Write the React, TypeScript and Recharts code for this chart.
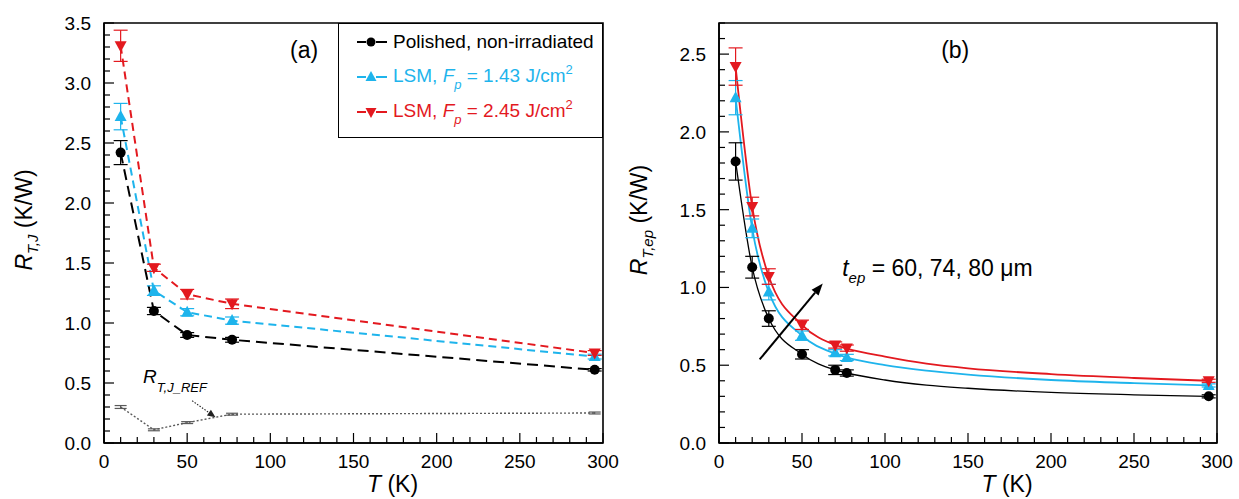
import React from "react";
import {
  LineChart,
  Line,
  XAxis,
  YAxis,
  ErrorBar,
  ReferenceArea,
  ReferenceLine,
  ReferenceDot,
  Legend,
} from "recharts";

const FONT = "'Liberation Sans', Arial, Helvetica, sans-serif";
const RED = "#e3191f";
const CYAN = "#1eb4ec";
const BLACK = "#000000";
const GREY = "#5a5a5a";

// panel (a): R_T,J vs T
const tempA = [10, 30, 50, 77, 295];
const polishedA = [2.42, 1.1, 0.9, 0.86, 0.61];
const polishedAErr = [0.1, 0.03, 0.02, 0.02, 0.01];
const lsm143A = [2.72, 1.27, 1.09, 1.02, 0.72];
const lsm143AErr = [0.11, 0.04, 0.03, 0.03, 0.02];
const lsm245A = [3.31, 1.46, 1.24, 1.16, 0.75];
const lsm245AErr = [0.13, 0.03, 0.04, 0.04, 0.02];
const refA = [0.3, 0.11, 0.17, 0.24, 0.25];
const refAErr = [0.012, 0.008, 0.008, 0.008, 0.008];

// panel (b): R_T,ep vs T, measured points
const tempB = [10, 20, 30, 50, 70, 77, 295];
const polishedB = [1.81, 1.13, 0.8, 0.57, 0.47, 0.45, 0.3];
const polishedBErr = [0.12, 0.07, 0.05, 0.03, 0.03, 0.02, 0.01];
const lsm143B = [2.22, 1.38, 0.97, 0.69, 0.58, 0.55, 0.37];
const lsm143BErr = [0.11, 0.06, 0.05, 0.03, 0.02, 0.02, 0.01];
const lsm245B = [2.42, 1.52, 1.07, 0.76, 0.63, 0.61, 0.4];
const lsm245BErr = [0.12, 0.06, 0.05, 0.03, 0.02, 0.02, 0.01];

// panel (b): fitted curves
const fitTempB = [10, 20, 30, 50, 70, 77, 100, 125, 150, 200, 250, 295];
const polishedFit = [1.81, 1.13, 0.8, 0.57, 0.47, 0.45, 0.405, 0.372, 0.352, 0.325, 0.31, 0.3];
const lsm143Fit = [2.22, 1.38, 0.97, 0.69, 0.575, 0.55, 0.5, 0.465, 0.44, 0.405, 0.385, 0.37];
const lsm245Fit = [2.42, 1.52, 1.07, 0.76, 0.63, 0.607, 0.555, 0.51, 0.48, 0.443, 0.418, 0.4];

// axis ticks
const xMajor = [0, 50, 100, 150, 200, 250, 300];
const yMajorA = [0, 0.5, 1, 1.5, 2, 2.5, 3, 3.5];
const yMajorB = [0, 0.5, 1, 1.5, 2, 2.5];
const xTicks = Array.from({ length: 31 }, (_, i) => i * 10);
const yTicksA = Array.from({ length: 36 }, (_, i) => i / 10);
const yTicksB = Array.from({ length: 28 }, (_, i) => i / 10);

const rowsA = tempA.map((T, i) => ({
  T,
  polished: polishedA[i],
  polishedErr: polishedAErr[i],
  lsm143: lsm143A[i],
  lsm143Err: lsm143AErr[i],
  lsm245: lsm245A[i],
  lsm245Err: lsm245AErr[i],
  ref: refA[i],
  refErr: refAErr[i],
}));

const rowsB = tempB.map((T, i) => ({
  T,
  polished: polishedB[i],
  polishedErr: polishedBErr[i],
  lsm143: lsm143B[i],
  lsm143Err: lsm143BErr[i],
  lsm245: lsm245B[i],
  lsm245Err: lsm245BErr[i],
}));

const fitB = fitTempB.map((T, i) => ({
  T,
  polished: polishedFit[i],
  lsm143: lsm143Fit[i],
  lsm245: lsm245Fit[i],
}));

const isMajor = (v: number, majors: number[]) => majors.some((m) => Math.abs(m - v) < 1e-6);
const axisLine = { stroke: "#000", strokeWidth: 1.6 };

const xTick = (p: any) => {
  const { x, y, payload } = p;
  const major = isMajor(payload.value, xMajor);
  return (
    <g>
      <line x1={x} x2={x} y1={y} y2={y - (major ? 10 : 6)} stroke="#000" strokeWidth={1.2} />
      {major && (
        <text x={x} y={y + 25} textAnchor="middle" fontSize={19} fontFamily={FONT} fill="#000">
          {payload.value}
        </text>
      )}
    </g>
  );
};

const yTick = (majors: number[]) => (p: any) => {
  const { x, y, payload } = p;
  const major = isMajor(payload.value, majors);
  return (
    <g>
      <line x1={x} x2={x + (major ? 10 : 6)} y1={y} y2={y} stroke="#000" strokeWidth={1.2} />
      {major && (
        <text x={x - 13} y={y + 7} textAnchor="end" fontSize={19} fontFamily={FONT} fill="#000">
          {payload.value.toFixed(1)}
        </text>
      )}
    </g>
  );
};

const xTitle = (p: any) => {
  const vb = p.viewBox;
  return (
    <text x={vb.x + vb.width / 2 + 39} y={vb.y + 49} textAnchor="middle" fontSize={23} fontFamily={FONT} fill="#000">
      <tspan fontStyle="italic">T</tspan>
      <tspan> (K)</tspan>
    </text>
  );
};

const yTitle = (sub: string, bx: number) => (p: any) => {
  const vb = p.viewBox;
  const cy = vb.y + vb.height / 2 - 13;
  return (
    <text transform={`translate(${bx},${cy}) rotate(-90)`} textAnchor="middle" fontSize={23} fontFamily={FONT} fill="#000">
      <tspan fontStyle="italic">R</tspan>
      <tspan fontStyle="italic" fontSize={15} dy={6}>{sub}</tspan>
      <tspan dy={-6}> (K/W)</tspan>
    </text>
  );
};

const circleDot = (color: string, r: number) => (p: any) =>
  p.cx == null ? <g key={p.index} /> : <circle key={p.index} cx={p.cx} cy={p.cy} r={r} fill={color} />;

const triUpDot = (color: string) => (p: any) =>
  p.cx == null ? (
    <g key={p.index} />
  ) : (
    <path key={p.index} d={`M${p.cx},${p.cy - 6.5}L${p.cx + 6},${p.cy + 4.5}L${p.cx - 6},${p.cy + 4.5}Z`} fill={color} />
  );

const triDownDot = (color: string) => (p: any) =>
  p.cx == null ? (
    <g key={p.index} />
  ) : (
    <path key={p.index} d={`M${p.cx},${p.cy + 6.5}L${p.cx + 6},${p.cy - 4.5}L${p.cx - 6},${p.cy - 4.5}Z`} fill={color} />
  );

const arrow = (width: number, dash: string | undefined, color: string, head: number, headW: number) => (p: any) => {
  const { x1, y1, x2, y2 } = p;
  const ang = Math.atan2(y2 - y1, x2 - x1);
  const bx = x2 - head * Math.cos(ang);
  const by = y2 - head * Math.sin(ang);
  const px = (-Math.sin(ang) * headW) / 2;
  const py = (Math.cos(ang) * headW) / 2;
  return (
    <g>
      <line x1={x1} y1={y1} x2={bx} y2={by} stroke={color} strokeWidth={width} strokeDasharray={dash} />
      <path d={`M${x2},${y2}L${bx + px},${by + py}L${bx - px},${by - py}Z`} fill={color} />
    </g>
  );
};

const panelLabel = (txt: string) => (p: any) => (
  <text x={p.cx} y={p.cy} textAnchor="middle" fontSize={23} fontFamily={FONT} fill="#000">
    {txt}
  </text>
);

const refLabel = (p: any) => (
  <text x={p.cx} y={p.cy} fontSize={19} fontFamily={FONT} fill="#000" fontStyle="italic">
    <tspan>R</tspan>
    <tspan fontSize={13} dy={9}>T,J_REF</tspan>
  </text>
);

const tepLabel = (p: any) => (
  <text x={p.cx} y={p.cy} fontSize={23} fontFamily={FONT} fill="#000">
    <tspan fontStyle="italic">t</tspan>
    <tspan fontStyle="italic" fontSize={15} dy={7}>ep</tspan>
    <tspan dy={-7}> = 60, 74, 80 μm</tspan>
  </text>
);

function LegendBox() {
  const row = (color: string, marker: React.ReactNode, content: React.ReactNode) => (
    <div style={{ height: 35, display: "flex", alignItems: "center", color }}>
      <svg width={30} height={16} style={{ marginLeft: 18, marginRight: 6, flex: "none" }}>
        <line x1={0} x2={9} y1={8} y2={8} stroke={color} strokeWidth={2} />
        <line x1={19} x2={30} y1={8} y2={8} stroke={color} strokeWidth={2} />
        {marker}
      </svg>
      <span style={{ whiteSpace: "nowrap" }}>{content}</span>
    </div>
  );
  const sub = { fontSize: 13, fontStyle: "italic" as const, position: "relative" as const, top: 7 };
  const sup = { fontSize: 13, position: "relative" as const, top: -8 };
  return (
    <div
      style={{
        width: 265,
        height: 115,
        boxSizing: "border-box",
        border: "1.5px solid #000",
        background: "#fff",
        fontFamily: FONT,
        fontSize: 19,
        lineHeight: "20px",
      }}
    >
      {row(BLACK, <circle cx={14} cy={8} r={4.5} fill={BLACK} />, "Polished, non-irradiated")}
      {row(
        CYAN,
        <path d="M14,2L19.5,12L8.5,12Z" fill={CYAN} />,
        <>
          LSM, <i>F</i>
          <span style={sub}>p</span> = 1.43 J/cm<span style={sup}>2</span>
        </>
      )}
      {row(
        RED,
        <path d="M14,14L19.5,4L8.5,4Z" fill={RED} />,
        <>
          LSM, <i>F</i>
          <span style={sub}>p</span> = 2.45 J/cm<span style={sup}>2</span>
        </>
      )}
    </div>
  );
}

function PanelA() {
  return (
    <LineChart width={620} height={499} margin={{ top: 23, right: 17, bottom: 0, left: 0 }}>
      <XAxis
        dataKey="T"
        type="number"
        domain={[0, 300]}
        ticks={xTicks}
        interval={0}
        tickSize={0}
        tickMargin={0}
        tick={xTick}
        axisLine={axisLine}
        height={56}
        allowDataOverflow
        label={xTitle}
      />
      <YAxis
        type="number"
        domain={[0, 3.5]}
        ticks={yTicksA}
        interval={0}
        tickSize={0}
        tickMargin={0}
        tick={yTick(yMajorA)}
        axisLine={axisLine}
        width={104}
        allowDataOverflow
        label={yTitle("T,J", 32)}
      />
      <ReferenceArea x1={0} x2={300} y1={0} y2={3.5} fill="none" fillOpacity={0} stroke="#000" strokeWidth={1.6} />
      <Line data={rowsA} dataKey="ref" stroke={GREY} strokeWidth={1.4} strokeDasharray="2 2" dot={false} isAnimationActive={false}>
        <ErrorBar dataKey="refErr" width={6} stroke={GREY} strokeWidth={1.2} direction="y" />
      </Line>
      <Line
        data={rowsA}
        dataKey="polished"
        stroke={BLACK}
        strokeWidth={2}
        strokeDasharray="11 6"
        dot={circleDot(BLACK, 5)}
        isAnimationActive={false}
      >
        <ErrorBar dataKey="polishedErr" width={7} stroke={BLACK} strokeWidth={1.2} direction="y" />
      </Line>
      <Line
        data={rowsA}
        dataKey="lsm143"
        stroke={CYAN}
        strokeWidth={2}
        strokeDasharray="8 5"
        dot={triUpDot(CYAN)}
        isAnimationActive={false}
      >
        <ErrorBar dataKey="lsm143Err" width={7} stroke={CYAN} strokeWidth={1.2} direction="y" />
      </Line>
      <Line
        data={rowsA}
        dataKey="lsm245"
        stroke={RED}
        strokeWidth={2}
        strokeDasharray="8 5"
        dot={triDownDot(RED)}
        isAnimationActive={false}
      >
        <ErrorBar dataKey="lsm245Err" width={7} stroke={RED} strokeWidth={1.2} direction="y" />
      </Line>
      <ReferenceLine
        segment={[
          { x: 53, y: 0.352 },
          { x: 67, y: 0.215 },
        ]}
        ifOverflow="visible"
        shape={arrow(1.1, "1.5 1.5", "#222", 8, 7)}
      />
      <ReferenceDot x={23.5} y={0.5} ifOverflow="visible" shape={refLabel} />
      <ReferenceDot x={120.3} y={3.21} ifOverflow="visible" shape={panelLabel("(a)")} />
      <Legend
        layout="vertical"
        align="center"
        verticalAlign="middle"
        content={() => <LegendBox />}
        wrapperStyle={{ left: 338, top: 23, width: 265, height: 115 }}
      />
    </LineChart>
  );
}

function PanelB() {
  return (
    <LineChart width={619} height={499} margin={{ top: 23, right: 22, bottom: 0, left: 0 }}>
      <XAxis
        dataKey="T"
        type="number"
        domain={[0, 300]}
        ticks={xTicks}
        interval={0}
        tickSize={0}
        tickMargin={0}
        tick={xTick}
        axisLine={axisLine}
        height={56}
        allowDataOverflow
        label={xTitle}
      />
      <YAxis
        type="number"
        domain={[0, 2.7]}
        ticks={yTicksB}
        interval={0}
        tickSize={0}
        tickMargin={0}
        tick={yTick(yMajorB)}
        axisLine={axisLine}
        width={99}
        allowDataOverflow
        label={yTitle("T,ep", 27)}
      />
      <ReferenceArea x1={0} x2={300} y1={0} y2={2.7} fill="none" fillOpacity={0} stroke="#000" strokeWidth={1.6} />
      <Line data={fitB} dataKey="polished" type="monotone" stroke={BLACK} strokeWidth={1.3} dot={false} isAnimationActive={false} />
      <Line data={fitB} dataKey="lsm143" type="monotone" stroke={CYAN} strokeWidth={1.8} dot={false} isAnimationActive={false} />
      <Line data={fitB} dataKey="lsm245" type="monotone" stroke={RED} strokeWidth={1.8} dot={false} isAnimationActive={false} />
      <Line data={rowsB} dataKey="polished" stroke="none" strokeWidth={0} dot={circleDot(BLACK, 5)} isAnimationActive={false}>
        <ErrorBar dataKey="polishedErr" width={7} stroke={BLACK} strokeWidth={1.2} direction="y" />
      </Line>
      <Line data={rowsB} dataKey="lsm143" stroke="none" strokeWidth={0} dot={triUpDot(CYAN)} isAnimationActive={false}>
        <ErrorBar dataKey="lsm143Err" width={7} stroke={CYAN} strokeWidth={1.2} direction="y" />
      </Line>
      <Line data={rowsB} dataKey="lsm245" stroke="none" strokeWidth={0} dot={triDownDot(RED)} isAnimationActive={false}>
        <ErrorBar dataKey="lsm245Err" width={7} stroke={RED} strokeWidth={1.2} direction="y" />
      </Line>
      <ReferenceLine
        segment={[
          { x: 24.5, y: 0.537 },
          { x: 62.5, y: 1.026 },
        ]}
        ifOverflow="visible"
        shape={arrow(2, undefined, "#000", 12, 9)}
      />
      <ReferenceDot x={74.2} y={1.073} ifOverflow="visible" shape={tepLabel} />
      <ReferenceDot x={142.3} y={2.476} ifOverflow="visible" shape={panelLabel("(b)")} />
    </LineChart>
  );
}

export default function App() {
  return (
    <div style={{ position: "absolute", left: 0, top: 0, width: 1239, height: 499, background: "#fff", fontFamily: FONT }}>
      <div style={{ position: "absolute", left: 0, top: 0 }}>
        <PanelA />
      </div>
      <div style={{ position: "absolute", left: 620, top: 0 }}>
        <PanelB />
      </div>
    </div>
  );
}
